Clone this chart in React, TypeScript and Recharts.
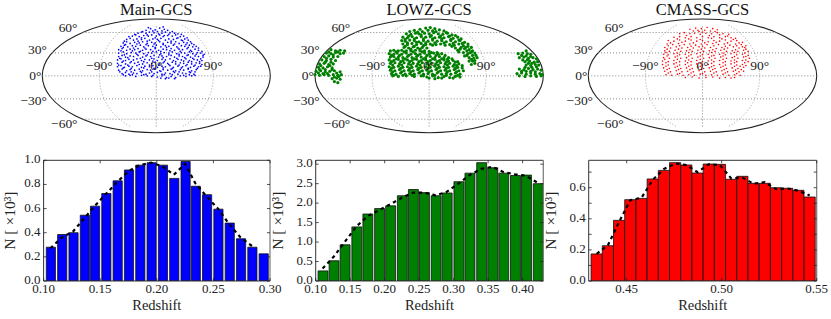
import React from "react";
import {
  Bar,
  ComposedChart,
  Line,
  ReferenceArea,
  ReferenceDot,
  ReferenceLine,
  Scatter,
  ScatterChart,
  XAxis,
  YAxis,
} from "recharts";

// Histograms: bin centres, counts (x 10^3), and the smooth dashed curve
const mainZ = [0.106, 0.116, 0.126, 0.136, 0.145, 0.155, 0.165, 0.175, 0.185, 0.195, 0.205, 0.215, 0.225, 0.234, 0.244, 0.254, 0.264, 0.274, 0.284, 0.294];
const mainN = [0.28, 0.385, 0.4, 0.545, 0.62, 0.725, 0.83, 0.92, 0.96, 0.98, 0.96, 0.85, 0.99, 0.785, 0.715, 0.595, 0.48, 0.35, 0.28, 0.225];
const mainFit = [0.27, 0.36, 0.41, 0.52, 0.62, 0.72, 0.82, 0.91, 0.96, 0.98, 0.95, 0.88, 0.97, 0.81, 0.7, 0.6, 0.47, 0.36, 0.29, null];

const lowzZ = [0.11, 0.126, 0.142, 0.159, 0.175, 0.192, 0.208, 0.225, 0.241, 0.257, 0.274, 0.29, 0.307, 0.323, 0.34, 0.356, 0.372, 0.389, 0.405, 0.422];
const lowzN = [0.26, 0.52, 0.93, 1.39, 1.72, 1.86, 1.93, 2.19, 2.35, 2.27, 2.19, 2.26, 2.55, 2.77, 3.04, 2.91, 2.77, 2.71, 2.72, 2.5];
const lowzFit = [0.32, 0.62, 1.0, 1.4, 1.66, 1.82, 1.97, 2.14, 2.27, 2.27, 2.2, 2.29, 2.5, 2.72, 2.88, 2.93, 2.8, 2.74, 2.7, 2.52];

const cmassZ = [0.4342, 0.4401, 0.446, 0.4519, 0.4578, 0.4637, 0.4696, 0.4755, 0.4814, 0.4873, 0.4932, 0.4991, 0.505, 0.5109, 0.5168, 0.5227, 0.5286, 0.5345, 0.5404, 0.5463];
const cmassN = [0.174, 0.227, 0.39, 0.523, 0.531, 0.656, 0.711, 0.761, 0.746, 0.694, 0.752, 0.75, 0.654, 0.673, 0.628, 0.628, 0.6, 0.596, 0.583, 0.54];
const cmassFit = [0.175, 0.23, 0.38, 0.52, 0.535, 0.65, 0.72, 0.755, 0.745, 0.7, 0.75, 0.745, 0.66, 0.665, 0.625, 0.635, 0.59, 0.595, 0.58, 0.55];

// Tick values
const mainXTicks = [0.1, 0.15, 0.2, 0.25, 0.3];
const mainYTicks = [0, 0.2, 0.4, 0.6, 0.8, 1.0];
const lowzXTicks = [0.1, 0.15, 0.2, 0.25, 0.3, 0.35, 0.4];
const lowzYTicks = [0, 0.5, 1.0, 1.5, 2.0, 2.5, 3.0];
const cmassXTicks = [0.45, 0.5, 0.55];
const cmassYTicks = [0, 0.1, 0.2, 0.3, 0.4, 0.5, 0.6, 0.7];
const cmassYLabelled = [0, 0.2, 0.4, 0.6];

const latTicks = [60, 30, 0, -30, -60];
const lonTicks = [-90, 0, 90];

// Sky positions: percent of the Mollweide semi-axes
const mainSky = [
  [-9, 80], [-5, 83], [-1, 81], [3, 84], [7, 82], [10, 80], [-3, 79], [5, 79],
  [-16, 75], [-13, 77], [-9, 75], [-6, 77], [-2, 76], [1, 78], [5, 75], [8, 77], [12, 76], [16, 75], [19, 74],
  [-21, 70], [-18, 72], [-15, 69], [-11, 71], [-7, 70], [-4, 72], [0, 70], [3, 72], [6, 69], [10, 71], [14, 70], [17, 72], [21, 69], [24, 70],
  [-26, 64], [-23, 66], [-20, 63], [-17, 65], [-13, 64], [-10, 66], [-6, 63], [-3, 65], [1, 64], [4, 66], [8, 63], [11, 65], [15, 64], [18, 66], [22, 63], [25, 65], [28, 63],
  [-29, 58], [-26, 60], [-23, 57], [-19, 59], [-15, 58], [-12, 60], [-8, 57], [-4, 59], [-1, 58], [3, 60], [6, 57], [10, 59], [13, 58], [17, 60], [20, 57], [24, 59], [27, 58], [31, 57],
  [-31, 52], [-28, 54], [-25, 51], [-21, 53], [-18, 52], [-14, 54], [-11, 51], [-7, 53], [-3, 52], [0, 54], [4, 51], [8, 53], [11, 52], [15, 54], [18, 51], [22, 53], [25, 52], [29, 54], [32, 51], [35, 52],
  [-33, 46], [-30, 48], [-26, 45], [-23, 47], [-19, 46], [-16, 48], [-12, 45], [-9, 47], [-5, 46], [-1, 48], [2, 45], [6, 47], [9, 46], [13, 48], [16, 45], [20, 47], [23, 46], [27, 48], [30, 45], [34, 47], [37, 45],
  [-33, 40], [-29, 42], [-26, 39], [-22, 41], [-18, 40], [-15, 42], [-11, 39], [-7, 41], [-4, 40], [0, 42], [4, 39], [7, 41], [11, 40], [14, 42], [18, 39], [22, 41], [25, 40], [29, 42], [32, 39], [36, 41], [39, 40], [42, 38],
  [-33, 34], [-30, 36], [-27, 33], [-23, 35], [-20, 34], [-16, 36], [-12, 33], [-9, 35], [-5, 34], [-2, 36], [2, 33], [5, 35], [9, 34], [13, 36], [16, 33], [20, 35], [23, 34], [27, 36], [30, 33], [34, 35], [37, 34], [41, 33],
  [-34, 28], [-31, 30], [-27, 27], [-24, 29], [-20, 28], [-17, 30], [-13, 27], [-10, 29], [-6, 28], [-2, 30], [1, 27], [5, 29], [8, 28], [12, 30], [15, 27], [19, 29], [22, 28], [26, 30], [29, 27], [33, 29], [36, 28], [40, 27],
  [-34, 22], [-30, 24], [-27, 21], [-23, 23], [-19, 22], [-16, 24], [-12, 21], [-8, 23], [-4, 22], [-1, 24], [3, 21], [6, 23], [10, 22], [14, 24], [17, 21], [21, 23], [24, 22], [28, 24], [31, 21], [35, 23], [38, 22], [40, 20],
  [-34, 16], [-31, 18], [-28, 15], [-24, 17], [-21, 16], [-17, 18], [-13, 15], [-10, 17], [-6, 16], [-3, 18], [1, 15], [5, 17], [8, 16], [12, 18], [15, 15], [19, 17], [23, 16], [26, 18], [30, 15], [33, 17], [37, 16],
  [-33, 10], [-30, 12], [-26, 9], [-23, 11], [-19, 10], [-15, 12], [-12, 9], [-8, 11], [-5, 10], [-1, 12], [3, 9], [6, 11], [10, 10], [13, 12], [17, 9], [21, 11], [24, 10], [28, 12], [31, 9], [35, 11],
  [-30, 4], [-27, 6], [-24, 3], [-20, 5], [-17, 4], [-13, 6], [-9, 3], [-6, 5], [-2, 4], [1, 6], [5, 3], [8, 5], [12, 4], [16, 6], [19, 3], [23, 5], [26, 4], [30, 6], [33, 3],
  [-27, 0], [-23, 1], [-18, -1], [-13, 1], [-8, 0], [-3, 1], [1, -2], [5, 0], [9, -3], [13, -1], [17, -3], [21, 0], [26, -1], [31, 0], [34, 1], [4, -4], [11, -4],
  // in-between points
  [-7, 85], [6, 86], [-12, 78], [14, 78], [-19, 73], [-8, 72], [2, 74], [11, 73], [22, 73],
  [-24, 69], [-13, 67], [-1, 67], [7, 71], [19, 67], [27, 67], [-28, 61], [-16, 61], [-8, 61], [2, 62], [13, 61], [23, 62], [30, 60],
  [-27, 55], [-17, 56], [-9, 55], [-2, 56], [6, 55], [16, 56], [26, 55], [33, 55], [-29, 50], [-20, 49], [-10, 49], [-1, 50], [9, 50], [19, 49], [28, 50], [37, 49],
  [-31, 44], [-21, 44], [-14, 43], [-3, 43], [4, 43], [12, 44], [21, 43], [31, 43], [40, 43], [-28, 37], [-17, 38], [-8, 37], [3, 37], [11, 37], [20, 38], [28, 37], [35, 38], [41, 36],
  [-32, 31], [-25, 32], [-14, 31], [-4, 31], [6, 32], [18, 31], [25, 32], [32, 31], [39, 30], [-29, 26], [-22, 25], [-11, 25], [-3, 26], [7, 25], [17, 25], [24, 26], [31, 25], [38, 25],
  [-33, 19], [-25, 19], [-15, 20], [-6, 19], [2, 19], [11, 20], [20, 19], [27, 20], [34, 19], [39, 17], [-29, 14], [-22, 13], [-11, 14], [-2, 13], [6, 14], [14, 13], [22, 14], [28, 13], [36, 13],
  [-32, 7], [-22, 7], [-14, 8], [-4, 7], [4, 8], [15, 8], [20, 7], [29, 7], [34, 7], [-29, 2], [-21, 2], [-11, 2], [-4, -1], [7, 2], [14, 2], [24, 1], [29, 2], [8, -5], [16, -5],
];

const lowzSky = [
  // north arc
  [-3, 84], [1, 85], [5, 83], [-8, 82], [-13, 80], [-17, 78], [9, 81], [13, 79], [-1, 80], [-6, 78], [3, 79], [15, 76], [-10, 77], [6, 78],
  [-20, 74], [-16, 73], [-12, 75], [-9, 74], [-4, 75], [0, 74], [4, 76], [8, 74], [12, 73], [16, 75], [20, 72], [23, 71], [-18, 70], [-7, 72], [2, 71], [10, 70], [18, 70],
  [-23, 68], [-19, 67], [-15, 69], [-11, 67], [-7, 69], [-3, 68], [1, 69], [5, 67], [9, 68], [13, 67], [17, 69], [21, 66], [25, 68], [28, 65], [-21, 64], [-13, 65], [-5, 65], [3, 65], [11, 65], [19, 64], [26, 63],
  [-24, 62], [-21, 61], [-17, 63], [-13, 62], [-9, 60], [-5, 62], [-1, 61], [3, 63], [7, 61], [11, 62], [15, 60], [19, 62], [23, 60], [27, 62], [31, 59], [34, 56], [-19, 58], [-11, 59], [-3, 58], [5, 58], [13, 58], [21, 57], [29, 57],
  [-23, 56], [-19, 55], [-15, 57], [-11, 55], [-7, 57], [-3, 55], [1, 56], [6, 55], [10, 56], [14, 54], [18, 55], [22, 54], [26, 56], [30, 53], [34, 52], [37, 50], [-21, 52], [-13, 52], [-5, 53], [3, 54], [20, 52], [28, 50], [32, 50],
  [-22, 50], [-18, 49], [-14, 51], [-10, 49], [-6, 50], [-2, 49], [23, 49], [27, 47], [31, 48], [35, 46], [38, 44], [40, 40], [-16, 47], [-8, 47], [25, 45], [33, 44], [36, 41],
  [26, 42], [30, 41], [34, 39], [37, 42], [41, 36], [31, 35], [35, 32], [39, 31], [42, 32], [35, 26], [38, 26], [40, 22], [37, 20], [38, 36], [33, 36], [37, 29], [40, 27],
  // main block
  [-34, 44], [-31, 45], [-27, 44], [-24, 45], [-20, 44], [-16, 44], [-12, 45], [-8, 44], [-4, 44], [0, 43], [-29, 42], [-22, 42], [-14, 42], [-6, 42], [2, 41], [7, 41],
  [-35, 39], [-31, 38], [-28, 40], [-24, 38], [-20, 40], [-16, 38], [-12, 39], [-8, 38], [-4, 40], [0, 38], [4, 40], [8, 38], [11, 39], [-33, 36], [-26, 36], [-18, 36], [-10, 36], [-2, 36], [6, 36], [14, 36],
  [-34, 33], [-31, 34], [-27, 33], [-23, 32], [-19, 34], [-15, 32], [-11, 34], [-7, 33], [-3, 32], [1, 34], [5, 32], [9, 34], [13, 32], [17, 32], [20, 30], [-29, 30], [-21, 30], [-13, 30], [-5, 30], [3, 30], [11, 30], [16, 29],
  [-35, 28], [-31, 27], [-27, 29], [-23, 27], [-19, 28], [-15, 27], [-11, 29], [-7, 27], [-3, 28], [1, 27], [5, 29], [9, 27], [13, 28], [17, 26], [21, 27], [25, 25], [-33, 25], [-25, 25], [-17, 25], [-9, 25], [-1, 25], [7, 25], [15, 24], [23, 24],
  [-34, 22], [-30, 23], [-26, 21], [-22, 23], [-18, 21], [-14, 22], [-10, 21], [-6, 23], [-2, 21], [2, 22], [6, 21], [10, 23], [14, 21], [18, 22], [22, 20], [26, 21], [29, 18], [-32, 19], [-24, 19], [-16, 19], [-8, 19], [0, 19], [8, 19], [16, 19], [24, 18],
  [-35, 16], [-31, 15], [-27, 17], [-23, 15], [-19, 16], [-15, 15], [-11, 17], [-7, 15], [-3, 16], [1, 15], [5, 17], [9, 15], [13, 16], [17, 15], [21, 17], [25, 15], [29, 14], [-33, 13], [-25, 13], [-17, 13], [-9, 13], [-1, 13], [7, 13], [15, 13], [23, 13],
  [-34, 10], [-30, 9], [-26, 11], [-22, 9], [-18, 10], [-14, 9], [-10, 11], [-6, 9], [-2, 10], [2, 9], [6, 11], [10, 9], [14, 10], [18, 9], [22, 11], [26, 9], [30, 9], [-32, 7], [-24, 7], [-16, 7], [-8, 7], [0, 7], [8, 7], [16, 7], [24, 7],
  [-33, 4], [-29, 3], [-25, 5], [-21, 3], [-17, 4], [-13, 3], [-9, 5], [-5, 3], [-1, 4], [3, 3], [7, 5], [11, 3], [15, 4], [19, 3], [23, 5], [27, 3], [-31, 1], [-23, 1], [-15, 1], [-5, 0], [5, 1], [15, 1], [25, 1],
  [-32, 0], [-27, -1], [-20, 0], [-13, -1], [-7, 0], [-2, -2], [3, 0], [8, -3], [13, -1], [18, -3], [23, -1], [27, -2], [0, -4], [5, -5], [11, -4], [21, -4],
  // west wing
  [-86, 46], [-82, 44], [-78, 45], [-74, 44], [-90, 40], [-86, 39], [-82, 41], [-78, 39], [-75, 40], [-88, 42], [-80, 42], [-84, 37],
  [-92, 34], [-88, 35], [-84, 33], [-80, 34], [-94, 28], [-90, 27], [-86, 29], [-82, 27], [-90, 31], [-86, 24], [-91, 24],
  [-96, 21], [-92, 22], [-88, 20], [-84, 21], [-97, 15], [-93, 14], [-89, 16], [-85, 14], [-95, 18], [-87, 18], [-91, 11], [-85, 11], [-96, 11],
  [-99, 8], [-95, 9], [-91, 7], [-87, 8], [-83, 9], [-78, 7], [-100, 2], [-96, 1], [-92, 2], [-88, 1], [-84, 2], [-80, 1], [-77, 2], [-97, 5], [-89, 4], [-81, 5], [-93, 4],
  [-85, -5], [-81, -4], [-78, -6], [-83, -10], [-80, -12], [-83, -2], [-79, -1],
  // east wing
  [85, 44], [78, 39], [82, 40], [86, 39], [89, 38], [79, 32], [83, 33], [87, 31], [91, 32], [94, 30], [81, 36], [85, 35], [89, 34],
  [84, 25], [88, 26], [92, 24], [95, 25], [85, 19], [89, 18], [93, 20], [96, 19], [82, 28], [86, 28], [90, 22], [87, 22], [94, 16], [90, 15],
  [79, 12], [83, 11], [87, 13], [91, 11], [95, 12], [98, 10], [77, 4], [81, 5], [85, 3], [89, 5], [93, 3], [97, 4], [99, 2], [81, 8], [85, 8], [89, 8], [93, 7], [84, 15],
  [79, 0], [84, -1], [89, 0], [94, -1], [98, 0],
];

const cmassSky = [
  [-11, 82], [-6, 84], [-1, 83], [4, 85], [9, 83], [13, 81], [-8, 79], [-3, 78], [2, 80], [7, 79],
  [-20, 74], [-16, 76], [-11, 74], [-7, 75], [-2, 73], [3, 75], [8, 74], [13, 76], [18, 74], [23, 73],
  [-25, 68], [-20, 69], [-15, 67], [-10, 69], [-5, 67], [0, 69], [5, 67], [10, 69], [15, 67], [20, 69], [25, 67], [29, 66],
  [-30, 62], [-25, 61], [-20, 63], [-15, 61], [-10, 63], [-5, 61], [0, 62], [5, 60], [10, 62], [15, 61], [20, 63], [25, 61], [30, 62], [35, 59],
  [-31, 56], [-26, 55], [-21, 57], [-16, 55], [-11, 56], [-6, 54], [-1, 56], [4, 55], [9, 57], [14, 55], [19, 56], [24, 54], [29, 56], [34, 55], [38, 53],
  [-33, 50], [-28, 49], [-23, 51], [-18, 49], [-13, 50], [-8, 49], [-3, 51], [2, 49], [7, 50], [12, 48], [17, 50], [22, 49], [27, 51], [32, 49], [37, 50],
  [-33, 44], [-29, 43], [-24, 45], [-19, 43], [-14, 44], [-9, 43], [-4, 45], [1, 43], [6, 44], [11, 43], [16, 45], [21, 43], [26, 44], [31, 43], [36, 45], [40, 43],
  [-34, 38], [-30, 37], [-25, 39], [-20, 37], [-15, 38], [-10, 37], [-5, 39], [0, 37], [5, 38], [10, 36], [15, 38], [20, 37], [25, 39], [30, 37], [35, 38], [40, 36],
  [-34, 32], [-29, 31], [-24, 33], [-19, 31], [-14, 32], [-9, 31], [-4, 33], [1, 31], [6, 32], [11, 31], [16, 33], [21, 31], [26, 32], [31, 31], [36, 33], [41, 31],
  [-35, 26], [-30, 25], [-25, 27], [-20, 25], [-15, 26], [-10, 25], [-5, 27], [0, 25], [5, 26], [10, 25], [15, 27], [20, 25], [25, 26], [30, 25], [35, 27], [40, 25],
  [-35, 20], [-30, 19], [-25, 21], [-20, 19], [-15, 20], [-10, 19], [-5, 21], [0, 19], [5, 20], [10, 18], [15, 20], [20, 19], [25, 21], [30, 19], [35, 20], [38, 18],
  [-34, 14], [-29, 13], [-24, 15], [-19, 13], [-14, 14], [-9, 13], [-4, 15], [1, 13], [6, 14], [11, 13], [16, 15], [21, 13], [26, 14], [31, 13], [36, 15],
  [-33, 8], [-28, 7], [-23, 9], [-18, 7], [-13, 8], [-8, 7], [-3, 9], [2, 7], [7, 8], [12, 7], [17, 9], [22, 7], [27, 8], [32, 7], [36, 8],
  [-32, 2], [-27, 1], [-22, 3], [-17, 1], [-12, 2], [-7, 1], [-2, 3], [3, 1], [8, 2], [13, 1], [18, 3], [23, 1], [28, 2], [33, 1],
  [-15, -3], [-9, -2], [-3, -4], [3, -3], [9, -2], [15, -4], [20, -3], [25, -4], [28, -3],
  // in-between points
  [-4, 80], [11, 78], [-14, 71], [0, 77], [6, 71], [15, 72], [22, 70], [-22, 65], [-12, 65], [-2, 64], [8, 66], [17, 65], [27, 64],
  [-28, 58], [-18, 59], [-8, 58], [2, 58], [12, 59], [22, 58], [32, 58], [-30, 53], [-20, 53], [-10, 52], [0, 52], [10, 53], [20, 52], [30, 53], [35, 51],
  [-31, 47], [-21, 47], [-11, 46], [-1, 47], [9, 46], [19, 47], [29, 46], [38, 47], [-32, 41], [-22, 40], [-12, 41], [-2, 41], [8, 41], [18, 40], [28, 41], [37, 40],
  [-31, 35], [-22, 35], [-12, 35], [-2, 35], [8, 35], [18, 35], [28, 34], [38, 34], [-33, 29], [-22, 29], [-12, 28], [-2, 29], [8, 28], [18, 29], [28, 28], [38, 28],
  [-32, 23], [-23, 23], [-13, 23], [-2, 22], [8, 22], [18, 23], [28, 23], [37, 23], [-32, 17], [-22, 17], [-12, 17], [-2, 17], [8, 16], [18, 17], [28, 17], [33, 17],
  [-31, 11], [-21, 11], [-11, 11], [-1, 11], [9, 11], [19, 11], [29, 10], [34, 11], [-30, 5], [-20, 4], [-10, 5], [0, 4], [10, 5], [20, 5], [30, 4],
];

const SERIF = '"Liberation Serif", serif';
const INK = "#222";

// Mollweide auxiliary angle for a latitude in degrees
function auxAngle(latDeg: number) {
  const lat = (latDeg * Math.PI) / 180;
  let t = lat;
  for (let i = 0; i < 30; i++) {
    t -= (2 * t + Math.sin(2 * t) - Math.PI * Math.sin(lat)) / (2 + 2 * Math.cos(2 * t));
  }
  return t;
}
const toPair = (p: number[]) => ({ x: p[0], y: p[1] });

function SkyLabel({ cx, cy, text, dx, dy, anchor }: any) {
  return (
    <text x={cx + dx} y={cy + dy} textAnchor={anchor} fontFamily={SERIF} fontSize={13.5} fill={INK}>
      {text}
    </text>
  );
}

const degLabel = (v: number) => `${v < 0 ? "\u2212" : ""}${Math.abs(v)}\u00b0`;

// Dotted meridian, stopped at the longitude cap
function Meridian({ x, y, width, height }: any) {
  const rx = width / 2;
  const ry = height / 2;
  const cx = x + rx;
  const cy = y + ry;
  const s = 0.89;
  const c = Math.sqrt(1 - s * s);
  const d =
    `M${cx - rx * c} ${cy - ry * s} A${rx} ${ry} 0 0 0 ${cx - rx * c} ${cy + ry * s} ` +
    `M${cx + rx * c} ${cy - ry * s} A${rx} ${ry} 0 0 1 ${cx + rx * c} ${cy + ry * s}`;
  return <path d={d} fill="none" stroke="#8a8a8a" strokeWidth={0.8} strokeDasharray="1 2" />;
}

function Outline({ x, y, width, height }: any) {
  return (
    <ellipse
      cx={x + width / 2}
      cy={y + height / 2}
      rx={width / 2}
      ry={height / 2}
      fill="none"
      stroke="#222"
      strokeWidth={1.1}
    />
  );
}

function SkyMap({ left, plotLeft, plotRight, title, points, color, r }: any) {
  const marginRight = 6;
  const width = plotRight + marginRight - left;
  const dots = points.map(toPair);
  return (
    <div style={{ position: "absolute", left, top: 0, width, height: 145 }}>
      <ScatterChart
        width={width}
        height={145}
        margin={{ top: 19, bottom: 12.3, left: plotLeft - left, right: marginRight }}
      >
        <XAxis type="number" dataKey="x" domain={[-100, 100]} hide />
        <YAxis type="number" dataKey="y" domain={[-100, 100]} hide />
        {latTicks.map((lat) => {
          const t = auxAngle(lat);
          const edge = 100 * Math.cos(t);
          const yy = 100 * Math.sin(t);
          return (
            <ReferenceLine
              key={lat}
              segment={[{ x: -edge, y: yy }, { x: edge, y: yy }]}
              stroke="#7a7a7a"
              strokeWidth={0.9}
              strokeDasharray="1 2"
            />
          );
        })}
        <ReferenceLine
          segment={[{ x: 0, y: -89 }, { x: 0, y: 89 }]}
          stroke="#7a7a7a"
          strokeWidth={0.9}
          strokeDasharray="1 2"
        />
        <ReferenceArea x1={-50} x2={50} y1={-100} y2={100} shape={<Meridian />} />
        <ReferenceArea x1={-100} x2={100} y1={-100} y2={100} shape={<Outline />} />
        <Scatter
          data={dots}
          isAnimationActive={false}
          shape={(p: any) => <circle cx={p.cx} cy={p.cy} r={r} fill={color} />}
        />
        {latTicks.map((lat) => {
          const t = auxAngle(lat);
          const ex = -100 * Math.cos(t);
          const yy = 100 * Math.sin(t);
          return (
            <ReferenceDot
              key={lat}
              x={ex}
              y={yy}
              r={0}
              shape={(p: any) => (
                <SkyLabel
                  {...p}
                  text={degLabel(lat)}
                  anchor="end"
                  dx={lat === 0 ? -1 : -5}
                  dy={4 - lat / 12}
                />
              )}
            />
          );
        })}
        {lonTicks.map((lon) => (
          <ReferenceDot
            key={lon}
            x={(lon / 180) * 100}
            y={0}
            r={0}
            shape={(p: any) => (
              <SkyLabel {...p} text={degLabel(lon)} anchor="middle" dx={0} dy={-6} />
            )}
          />
        ))}
      </ScatterChart>
      <div
        style={{
          position: "absolute",
          left: plotLeft - left,
          width: plotRight - plotLeft,
          top: 0,
          textAlign: "center",
          fontFamily: SERIF,
          fontSize: 16.5,
          lineHeight: "19px",
          color: "#111",
          whiteSpace: "nowrap",
        }}
      >
        {title}
      </div>
    </div>
  );
}

function AxisTick({ x, y, payload, side, labelled, digits }: any) {
  const v = payload.value;
  const len = 3;
  const showText = labelled ? labelled.includes(v) : true;
  const txt = v.toFixed(digits);
  const common = { fontFamily: SERIF, fontSize: 13, fill: INK };
  if (side === "bottom") {
    return (
      <g>
        <line x1={x} x2={x} y1={y} y2={y - len} stroke={INK} strokeWidth={0.8} />
        <text x={x} y={y + 12} textAnchor="middle" {...common}>{txt}</text>
      </g>
    );
  }
  if (side === "top") {
    return <line x1={x} x2={x} y1={y} y2={y + len} stroke={INK} strokeWidth={0.8} />;
  }
  if (side === "left") {
    return (
      <g>
        <line x1={x} x2={x + len} y1={y} y2={y} stroke={INK} strokeWidth={0.8} />
        {showText && (
          <text x={x - 3} y={y + 3} textAnchor="end" {...common}>{txt}</text>
        )}
      </g>
    );
  }
  return <line x1={x} x2={x - len} y1={y} y2={y} stroke={INK} strokeWidth={0.8} />;
}

function Histogram({ left, plotLeft, plotRight, zs, counts, fit, xDomain, yDomain, xTicks, yTicks, yLabelled, color, barSize, labelOffset }: any) {
  const marginRight = 831 - plotRight < 14 ? 831 - plotRight : 14;
  const width = plotRight + marginRight - left;
  const data = zs.map((z: number, i: number) => ({ z, n: counts[i], fit: fit[i] }));
  const axisLine = { stroke: "#333", strokeWidth: 1 };
  return (
    <div style={{ position: "absolute", left, top: 145, width, height: 174 }}>
      <ComposedChart
        width={width}
        height={174}
        data={data}
        margin={{ top: 14.3, bottom: 37, left: plotLeft - left - 1, right: marginRight - 1 }}
      >
        <Bar
          xAxisId="bottom"
          yAxisId="left"
          dataKey="n"
          barSize={barSize}
          fill={color}
          stroke="#111"
          strokeWidth={0.8}
          isAnimationActive={false}
        />
        <Line
          xAxisId="bottom"
          yAxisId="left"
          dataKey="fit"
          type="linear"
          stroke="#000"
          strokeWidth={2.2}
          strokeDasharray="3.5 3.5"
          dot={false}
          legendType="none"
          isAnimationActive={false}
        />
        <XAxis
          xAxisId="bottom"
          type="number"
          dataKey="z"
          domain={xDomain}
          ticks={xTicks}
          allowDataOverflow
          height={1}
          tickSize={0}
          tickMargin={0}
          interval={0}
          tickLine={false}
          axisLine={axisLine}
          tick={<AxisTick side="bottom" digits={2} />}
          label={{ value: "Redshift", position: "bottom", offset: 18, fontFamily: SERIF, fontSize: 14.5, fill: INK }}
        />
        <XAxis
          xAxisId="top"
          orientation="top"
          type="number"
          dataKey="z"
          domain={xDomain}
          ticks={xTicks}
          allowDataOverflow
          height={1}
          tickSize={0}
          tickMargin={0}
          interval={0}
          tickLine={false}
          axisLine={axisLine}
          tick={<AxisTick side="top" />}
        />
        <YAxis
          yAxisId="left"
          type="number"
          domain={yDomain}
          ticks={yTicks}
          allowDataOverflow
          width={1}
          tickSize={0}
          tickMargin={0}
          interval={0}
          tickLine={false}
          axisLine={axisLine}
          tick={<AxisTick side="left" digits={1} labelled={yLabelled} />}
          label={{ value: "N [ \u00d710\u00b3]", angle: -90, position: "left", offset: labelOffset, fontFamily: SERIF, fontSize: 15.5, fill: INK, style: { textAnchor: "middle" } }}
        />
        <YAxis
          yAxisId="right"
          orientation="right"
          type="number"
          domain={yDomain}
          ticks={yTicks}
          allowDataOverflow
          width={1}
          tickSize={0}
          tickMargin={0}
          interval={0}
          tickLine={false}
          axisLine={{ stroke: "#777", strokeWidth: 1.2 }}
          tick={<AxisTick side="right" />}
        />
      </ComposedChart>
    </div>
  );
}

export default function App() {
  return (
    <div style={{ position: "absolute", left: 0, top: 0, width: 831, height: 319, background: "#fff", overflow: "hidden" }}>
      <SkyMap left={0} plotLeft={42.3} plotRight={270.3} title="Main-GCS" points={mainSky} color="#0000ff" r={0.85} />
      <SkyMap left={277} plotLeft={315} plotRight={543.3} title="LOWZ-GCS" points={lowzSky} color="#008000" r={1.6} />
      <SkyMap left={551} plotLeft={588.3} plotRight={816.7} title="CMASS-GCS" points={cmassSky} color="#ff0000" r={0.8} />
      <Histogram left={0} plotLeft={43.6} plotRight={270} zs={mainZ} counts={mainN} fit={mainFit} xDomain={[0.1, 0.3]} yDomain={[0, 1.0]} xTicks={mainXTicks} yTicks={mainYTicks} color="#0000ff" barSize={11.2} labelOffset={33} />
      <Histogram left={272} plotLeft={315.7} plotRight={543.3} zs={lowzZ} counts={lowzN} fit={lowzFit} xDomain={[0.1, 0.43]} yDomain={[0, 3.1]} xTicks={lowzXTicks} yTicks={lowzYTicks} color="#008000" barSize={11.33} labelOffset={37} />
      <Histogram left={545} plotLeft={588.7} plotRight={816.7} zs={cmassZ} counts={cmassN} fit={cmassFit} xDomain={[0.43, 0.55]} yDomain={[0, 0.776]} xTicks={cmassXTicks} yTicks={cmassYTicks} yLabelled={cmassYLabelled} color="#ff0000" barSize={11.17} labelOffset={37} />
    </div>
  );
}
